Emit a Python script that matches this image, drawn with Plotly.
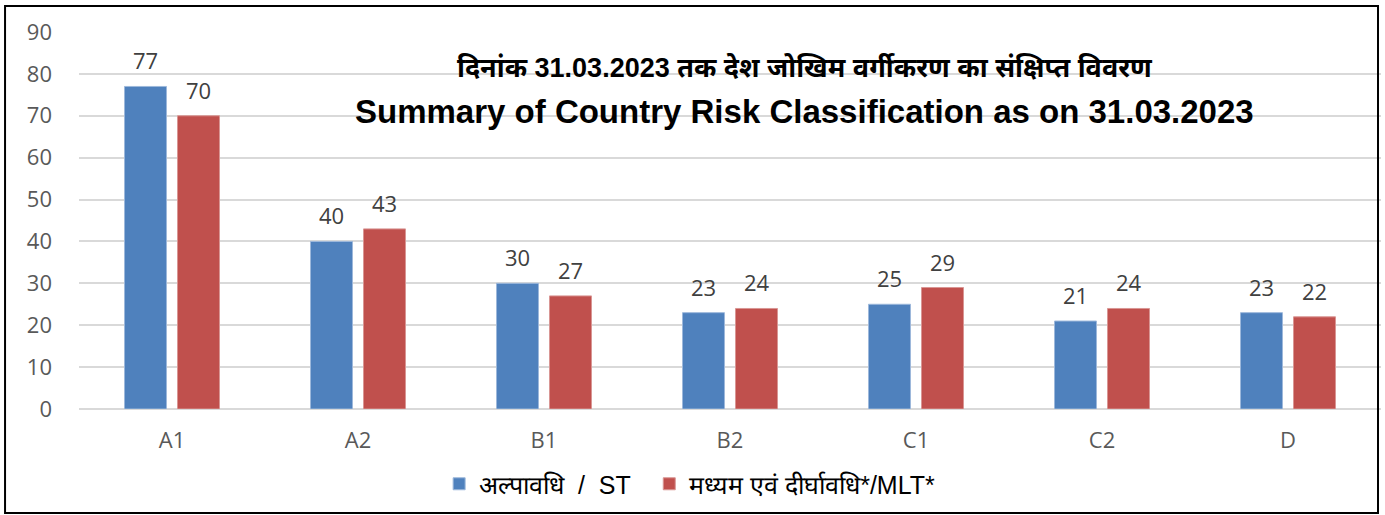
import plotly.graph_objects as go

categories = ["A1", "A2", "B1", "B2", "C1", "C2", "D"]
st_values = [77, 40, 30, 23, 25, 21, 23]
mlt_values = [70, 43, 27, 24, 29, 24, 22]
st_name = "अल्पावधि  /  ST  "
mlt_name = "मध्यम एवं दीर्घावधि*/MLT*"
title_hi = "दिनांक 31.03.2023 तक देश जोखिम वर्गीकरण का संक्षिप्त विवरण"
title_en = "Summary of Country Risk Classification as on 31.03.2023"

blue = "#4F81BD"
red = "#C0504D"

fig = go.Figure()
fig.add_trace(go.Bar(x=categories, y=st_values, name=st_name,
                     marker=dict(color=blue, line=dict(color="#9DB8DB", width=1))))
fig.add_trace(go.Bar(x=categories, y=mlt_values, name=mlt_name,
                     marker=dict(color=red, line=dict(color="#D99694", width=1))))

# value labels above bars
for vals, dx in ((st_values, -26.5), (mlt_values, 26.5)):
    for c, v in zip(categories, vals):
        fig.add_annotation(x=c, y=v, text=str(v), showarrow=False,
                           xshift=dx, yshift=26, yanchor="middle",
                           font=dict(family="Open Sans", size=22, color="#404040"))

fig.add_annotation(xref="paper", yref="paper", x=0.5576, y=0.907, text="<b>" + title_hi + "</b>",
                   showarrow=False, xanchor="center", yanchor="middle",
                   font=dict(family="Liberation Sans, Noto Sans", size=27, color="black"))
fig.add_annotation(xref="paper", yref="paper", x=0.5576, y=0.790, text="<b>" + title_en + "</b>",
                   showarrow=False, xanchor="center", yanchor="middle",
                   font=dict(family="Liberation Sans", size=33, color="black"))

# outer frame
fig.add_shape(type="rect", xref="paper", yref="paper",
              x0=-0.0568, x1=0.9977, y0=-0.276, y1=1.069,
              line=dict(color="black", width=2), fillcolor="rgba(0,0,0,0)")

fig.update_layout(
    width=1385, height=515,
    margin=dict(l=79, r=4, t=32, b=106),
    paper_bgcolor="white", plot_bgcolor="white",
    barmode="group", bargap=0.43, bargroupgap=0.208,
    showlegend=True,
    legend=dict(orientation="h", x=0.469, xanchor="center", y=-0.199, yanchor="middle",
                font=dict(family="Liberation Sans", size=25, color="black"),
                traceorder="normal"),
    xaxis=dict(showgrid=False, showline=False, ticks="",
               tickfont=dict(family="Open Sans", size=22, color="#595959"),
               ticklabelstandoff=16),
    yaxis=dict(range=[0, 90], dtick=10, showline=False, gridcolor="#D9D9D9", gridwidth=1.5,
               zeroline=True, zerolinecolor="#D9D9D9", zerolinewidth=1.5,
               tickfont=dict(family="Open Sans", size=22, color="#595959"),
               ticklabelstandoff=26),
)

fig.write_html("out.html", config={"displayModeBar": False},
               post_script="document.body.style.margin='0';")
